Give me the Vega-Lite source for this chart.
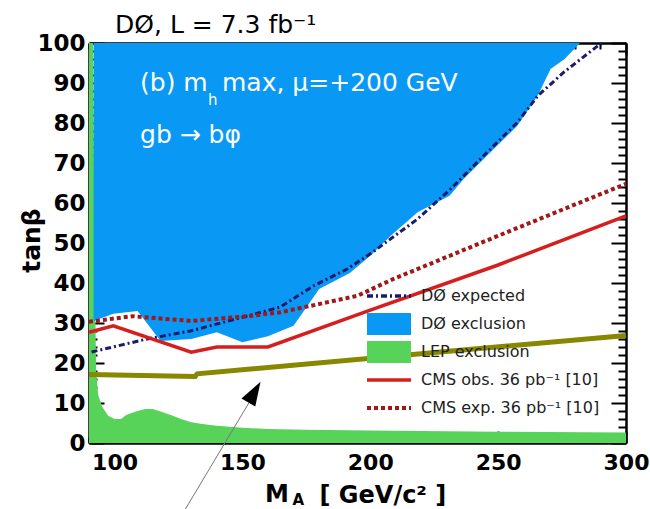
{
  "$schema": "https://vega.github.io/schema/vega-lite/v6.json",
  "width": 537,
  "height": 400,
  "autosize": {"type": "none"},
  "padding": {"left": 89, "top": 43, "right": 24, "bottom": 66},
  "background": "white",
  "config": {
    "view": {"stroke": null},
    "axis": {
      "zindex": 1,
      "grid": false,
      "domainColor": "black",
      "domainWidth": 2.5,
      "tickColor": "black",
      "tickWidth": 2,
      "labelFont": "DejaVu Sans",
      "labelFontWeight": "bold",
      "labelFontSize": 22,
      "labelColor": "black",
      "labelFlush": false,
      "labelOverlap": false,
      "labelBound": false,
      "titleFont": "DejaVu Sans",
      "titleFontWeight": "bold",
      "titleFontSize": 24,
      "titleColor": "black"
    }
  },
  "datasets": {
    "lep": [
      {"series": "LEP exclusion", "x": 90, "y": 100},
      {"series": "LEP exclusion", "x": 91.6, "y": 100},
      {"series": "LEP exclusion", "x": 92.2, "y": 45},
      {"series": "LEP exclusion", "x": 92.8, "y": 18},
      {"series": "LEP exclusion", "x": 93.6, "y": 12},
      {"series": "LEP exclusion", "x": 95.2, "y": 9},
      {"series": "LEP exclusion", "x": 97.5, "y": 6.8},
      {"series": "LEP exclusion", "x": 100, "y": 6},
      {"series": "LEP exclusion", "x": 102.5, "y": 6},
      {"series": "LEP exclusion", "x": 104.5, "y": 7},
      {"series": "LEP exclusion", "x": 108, "y": 7.8},
      {"series": "LEP exclusion", "x": 112, "y": 8.5},
      {"series": "LEP exclusion", "x": 115, "y": 8.5},
      {"series": "LEP exclusion", "x": 118, "y": 7.9},
      {"series": "LEP exclusion", "x": 122, "y": 7},
      {"series": "LEP exclusion", "x": 126, "y": 6},
      {"series": "LEP exclusion", "x": 130, "y": 5.2},
      {"series": "LEP exclusion", "x": 135, "y": 4.7},
      {"series": "LEP exclusion", "x": 140, "y": 4.3},
      {"series": "LEP exclusion", "x": 150, "y": 3.8},
      {"series": "LEP exclusion", "x": 160, "y": 3.5},
      {"series": "LEP exclusion", "x": 175, "y": 3.3},
      {"series": "LEP exclusion", "x": 200, "y": 3.1},
      {"series": "LEP exclusion", "x": 250, "y": 2.8},
      {"series": "LEP exclusion", "x": 300, "y": 2.6}
    ],
    "d0": [
      {"series": "DØ exclusion", "x": 91.8, "y": 30.5},
      {"series": "DØ exclusion", "x": 99.5, "y": 32.3},
      {"series": "DØ exclusion", "x": 109, "y": 33},
      {"series": "DØ exclusion", "x": 118, "y": 25.5},
      {"series": "DØ exclusion", "x": 130, "y": 26},
      {"series": "DØ exclusion", "x": 140, "y": 27.7},
      {"series": "DØ exclusion", "x": 150, "y": 25.2},
      {"series": "DØ exclusion", "x": 160, "y": 26.7},
      {"series": "DØ exclusion", "x": 170, "y": 29.3},
      {"series": "DØ exclusion", "x": 180, "y": 38.5},
      {"series": "DØ exclusion", "x": 192, "y": 42.5},
      {"series": "DØ exclusion", "x": 200, "y": 46.8},
      {"series": "DØ exclusion", "x": 208, "y": 51.8},
      {"series": "DØ exclusion", "x": 218.5, "y": 57.7},
      {"series": "DØ exclusion", "x": 231, "y": 61.8},
      {"series": "DØ exclusion", "x": 236.5, "y": 66},
      {"series": "DØ exclusion", "x": 247, "y": 72.7},
      {"series": "DØ exclusion", "x": 257.5, "y": 79.3},
      {"series": "DØ exclusion", "x": 265.5, "y": 86.9},
      {"series": "DØ exclusion", "x": 270.5, "y": 93.5},
      {"series": "DØ exclusion", "x": 276, "y": 96},
      {"series": "DØ exclusion", "x": 282, "y": 100}
    ],
    "d0exp": [
      {"series": "DØ expected", "x": 91, "y": 22.75},
      {"series": "DØ expected", "x": 112.7, "y": 26},
      {"series": "DØ expected", "x": 129.6, "y": 28},
      {"series": "DØ expected", "x": 151.9, "y": 31.75},
      {"series": "DØ expected", "x": 164.8, "y": 34},
      {"series": "DØ expected", "x": 177.7, "y": 39.25},
      {"series": "DØ expected", "x": 191, "y": 43.5},
      {"series": "DØ expected", "x": 201, "y": 47.75},
      {"series": "DØ expected", "x": 218.5, "y": 56},
      {"series": "DØ expected", "x": 231.4, "y": 63.5},
      {"series": "DØ expected", "x": 244.3, "y": 71.8},
      {"series": "DØ expected", "x": 257.6, "y": 80.2},
      {"series": "DØ expected", "x": 265.5, "y": 86.8},
      {"series": "DØ expected", "x": 275.7, "y": 92.7},
      {"series": "DØ expected", "x": 289, "y": 99.3},
      {"series": "DØ expected", "x": 291, "y": 100}
    ],
    "cmsobs": [
      {"series": "CMS obs. 36 pb⁻¹ [10]", "x": 90, "y": 27.7},
      {"series": "CMS obs. 36 pb⁻¹ [10]", "x": 99.5, "y": 29.3},
      {"series": "CMS obs. 36 pb⁻¹ [10]", "x": 130, "y": 22.7},
      {"series": "CMS obs. 36 pb⁻¹ [10]", "x": 140, "y": 24},
      {"series": "CMS obs. 36 pb⁻¹ [10]", "x": 160, "y": 24},
      {"series": "CMS obs. 36 pb⁻¹ [10]", "x": 200, "y": 33.2},
      {"series": "CMS obs. 36 pb⁻¹ [10]", "x": 250, "y": 44.5},
      {"series": "CMS obs. 36 pb⁻¹ [10]", "x": 300, "y": 56.8}
    ],
    "cmsexp": [
      {"series": "CMS exp. 36 pb⁻¹ [10]", "x": 90, "y": 30.3},
      {"series": "CMS exp. 36 pb⁻¹ [10]", "x": 107, "y": 31.7},
      {"series": "CMS exp. 36 pb⁻¹ [10]", "x": 130, "y": 30.5},
      {"series": "CMS exp. 36 pb⁻¹ [10]", "x": 152, "y": 31.7},
      {"series": "CMS exp. 36 pb⁻¹ [10]", "x": 165, "y": 32.7},
      {"series": "CMS exp. 36 pb⁻¹ [10]", "x": 195, "y": 36.8},
      {"series": "CMS exp. 36 pb⁻¹ [10]", "x": 209, "y": 41},
      {"series": "CMS exp. 36 pb⁻¹ [10]", "x": 250, "y": 51.8},
      {"series": "CMS exp. 36 pb⁻¹ [10]", "x": 300, "y": 64.8}
    ],
    "olive": [
      {"x": 90, "y": 17.1},
      {"x": 131.5, "y": 16.6},
      {"x": 132.3, "y": 17.3},
      {"x": 300, "y": 26.9}
    ],
    "arrow": [
      {"x": 152.5, "y": 10, "x2": 126.3, "y2": -18}
    ],
    "head": [
      {"x": 154.7, "y": 12.7}
    ],
    "titletxt": [
      {"x": 100.2, "y": 102.5, "text": "DØ, L = 7.3 fb⁻¹"}
    ],
    "txt": [
      {"x": 109.95, "y": 88, "text": "(b) m"},
      {"x": 142, "y": 88, "text": "max, μ=+200 GeV"},
      {"x": 109.95, "y": 75, "text": "gb → bφ"}
    ],
    "sub": [
      {"x": 136.5, "y": 84.5, "text": "h"}
    ],
    "axmain": [
      {"x": 158.8, "y": -14.75, "text": "M"}
    ],
    "axsub": [
      {"x": 169.6, "y": -15.5, "text": "A"}
    ]
  },
  "layer": [
    {
      "data": {"name": "lep"},
      "mark": {"type": "area", "interpolate": "linear"},
      "encoding": {
        "x": {
          "field": "x", "type": "quantitative",
          "scale": {"domain": [90, 300], "nice": false, "zero": false},
          "axis": {
            "orient": "bottom",
            "values": [90, 100, 110, 120, 130, 140, 150, 160, 170, 180, 190, 200, 210, 220, 230, 240, 250, 260, 270, 280, 290, 300],
            "tickSize": {"condition": {"test": "datum.value % 50 === 0", "value": -12}, "value": -6},
            "labelExpr": "datum.value % 50 === 0 ? datum.label : ''",
            "labelPadding": 21,
            "title": "[ GeV/c² ]",
            "titleX": 230,
            "titleY": 59,
            "titleAlign": "left",
            "titleBaseline": "alphabetic",
            "titleAnchor": null
          }
        },
        "y": {
          "field": "y", "type": "quantitative", "stack": null,
          "scale": {"domain": [0, 100], "nice": false, "zero": false},
          "axis": {
            "orient": "left",
            "values": [0, 2, 4, 6, 8, 10, 12, 14, 16, 18, 20, 22, 24, 26, 28, 30, 32, 34, 36, 38, 40, 42, 44, 46, 48, 50, 52, 54, 56, 58, 60, 62, 64, 66, 68, 70, 72, 74, 76, 78, 80, 82, 84, 86, 88, 90, 92, 94, 96, 98, 100],
            "tickSize": {"condition": {"test": "datum.value % 10 === 0", "value": -15}, "value": -8},
            "labelExpr": "datum.value % 10 === 0 ? datum.label : ''",
            "labelFontSize": 23,
            "labelPadding": 19,
            "title": "tanβ",
            "titleFontSize": 25,
            "titleX": -58,
            "titleY": 197,
            "titleAngle": 270,
            "titleAlign": "center",
            "titleBaseline": "middle",
            "titleAnchor": null
          }
        },
        "color": {
          "field": "series", "type": "nominal",
          "scale": {
            "domain": ["DØ expected", "DØ exclusion", "LEP exclusion", "CMS obs. 36 pb⁻¹ [10]", "CMS exp. 36 pb⁻¹ [10]"],
            "range": ["#1a1a6e", "#0a98f5", "#58d35a", "#d61e1e", "#a01818"]
          },
          "legend": {
            "title": null,
            "orient": "none",
            "legendX": 292,
            "legendY": 245,
            "padding": 0,
            "gridAlign": "all",
            "symbolSize": 576,
            "labelOffset": 24,
            "rowPadding": -12,
            "labelFont": "DejaVu Sans",
            "labelFontSize": 16,
            "labelColor": "#222222",
            "labelLimit": 400,
            "encode": {
              "symbols": {
                "update": {
                  "shape": {"signal": "(datum.index === 1 || datum.index === 2) ? 'M-1.833,-0.917H1.833V0.917H-1.833Z' : 'M-1.833,-0.917M1.833,0.917M-1.833,0H1.833'"},
                  "fill": {"signal": "(datum.index === 1 || datum.index === 2) ? scale('color', datum.value) : 'transparent'"},
                  "stroke": {"signal": "(datum.index === 1 || datum.index === 2) ? 'transparent' : scale('color', datum.value)"},
                  "strokeWidth": {"signal": "(datum.index === 1 || datum.index === 2) ? 0 : (datum.index === 4 ? 4 : 3.5)"},
                  "strokeDash": {"signal": "datum.index === 0 ? [6, 3, 2, 3] : (datum.index === 4 ? [4, 3] : [1, 0])"},
                  "opacity": {"value": 1}
                }
              }
            }
          }
        }
      }
    },
    {
      "data": {"name": "d0"},
      "mark": {"type": "area", "interpolate": "linear"},
      "encoding": {
        "x": {
          "field": "x", "type": "quantitative",
          "axis": {
            "orient": "top",
            "values": [90, 100, 110, 120, 130, 140, 150, 160, 170, 180, 190, 200, 210, 220, 230, 240, 250, 260, 270, 280, 290, 300],
            "tickSize": {"condition": {"test": "datum.value % 50 === 0", "value": -12}, "value": -6},
            "labels": false,
            "title": null
          }
        },
        "y": {
          "field": "y", "type": "quantitative",
          "axis": {
            "orient": "right",
            "values": [0, 2, 4, 6, 8, 10, 12, 14, 16, 18, 20, 22, 24, 26, 28, 30, 32, 34, 36, 38, 40, 42, 44, 46, 48, 50, 52, 54, 56, 58, 60, 62, 64, 66, 68, 70, 72, 74, 76, 78, 80, 82, 84, 86, 88, 90, 92, 94, 96, 98, 100],
            "tickSize": {"condition": {"test": "datum.value % 10 === 0", "value": -15}, "value": -8},
            "labels": false,
            "title": null
          }
        },
        "y2": {"datum": 100},
        "color": {"field": "series", "type": "nominal"}
      }
    },
    {
      "data": {"name": "d0exp"},
      "mark": {"type": "line", "strokeWidth": 3, "strokeDash": [6, 3, 2, 3]},
      "encoding": {
        "x": {"field": "x", "type": "quantitative", "axis": null},
        "y": {"field": "y", "type": "quantitative", "axis": null},
        "color": {"field": "series", "type": "nominal"}
      }
    },
    {
      "data": {"name": "cmsexp"},
      "mark": {"type": "line", "strokeWidth": 4, "strokeDash": [4, 3]},
      "encoding": {
        "x": {"field": "x", "type": "quantitative", "axis": null},
        "y": {"field": "y", "type": "quantitative", "axis": null},
        "color": {"field": "series", "type": "nominal"}
      }
    },
    {
      "data": {"name": "cmsobs"},
      "mark": {"type": "line", "strokeWidth": 3.5},
      "encoding": {
        "x": {"field": "x", "type": "quantitative", "axis": null},
        "y": {"field": "y", "type": "quantitative", "axis": null},
        "color": {"field": "series", "type": "nominal"}
      }
    },
    {
      "data": {"name": "olive"},
      "mark": {"type": "line", "strokeWidth": 5, "color": "#878700"},
      "encoding": {
        "x": {"field": "x", "type": "quantitative", "axis": null},
        "y": {"field": "y", "type": "quantitative", "axis": null}
      }
    },
    {
      "data": {"name": "arrow"},
      "mark": {"type": "rule", "color": "#777777", "strokeWidth": 1},
      "encoding": {
        "x": {"field": "x", "type": "quantitative", "axis": null},
        "y": {"field": "y", "type": "quantitative", "axis": null},
        "x2": {"field": "x2"},
        "y2": {"field": "y2"}
      }
    },
    {
      "data": {"name": "head"},
      "mark": {"type": "point", "shape": "M0,-1L0.667,1L-0.667,1Z", "size": 576, "filled": true, "color": "black", "opacity": 1, "angle": 30.4},
      "encoding": {
        "x": {"field": "x", "type": "quantitative", "axis": null},
        "y": {"field": "y", "type": "quantitative", "axis": null}
      }
    },
    {
      "data": {"name": "titletxt"},
      "mark": {"type": "text", "font": "DejaVu Sans", "fontSize": 25, "color": "black", "align": "left", "baseline": "alphabetic"},
      "encoding": {
        "x": {"field": "x", "type": "quantitative", "axis": null},
        "y": {"field": "y", "type": "quantitative", "axis": null},
        "text": {"field": "text"}
      }
    },
    {
      "data": {"name": "txt"},
      "mark": {"type": "text", "font": "DejaVu Sans", "fontSize": 25, "color": "white", "align": "left", "baseline": "alphabetic"},
      "encoding": {
        "x": {"field": "x", "type": "quantitative", "axis": null},
        "y": {"field": "y", "type": "quantitative", "axis": null},
        "text": {"field": "text"}
      }
    },
    {
      "data": {"name": "sub"},
      "mark": {"type": "text", "font": "DejaVu Sans", "fontSize": 15, "color": "white", "align": "left", "baseline": "alphabetic"},
      "encoding": {
        "x": {"field": "x", "type": "quantitative", "axis": null},
        "y": {"field": "y", "type": "quantitative", "axis": null},
        "text": {"field": "text"}
      }
    },
    {
      "data": {"name": "axmain"},
      "mark": {"type": "text", "font": "DejaVu Sans", "fontSize": 24, "fontWeight": "bold", "color": "black", "align": "left", "baseline": "alphabetic"},
      "encoding": {
        "x": {"field": "x", "type": "quantitative", "axis": null},
        "y": {"field": "y", "type": "quantitative", "axis": null},
        "text": {"field": "text"}
      }
    },
    {
      "data": {"name": "axsub"},
      "mark": {"type": "text", "font": "DejaVu Sans", "fontSize": 15, "fontWeight": "bold", "color": "black", "align": "left", "baseline": "alphabetic"},
      "encoding": {
        "x": {"field": "x", "type": "quantitative", "axis": null},
        "y": {"field": "y", "type": "quantitative", "axis": null},
        "text": {"field": "text"}
      }
    }
  ],
  "resolve": {"axis": {"x": "independent", "y": "independent"}}
}
